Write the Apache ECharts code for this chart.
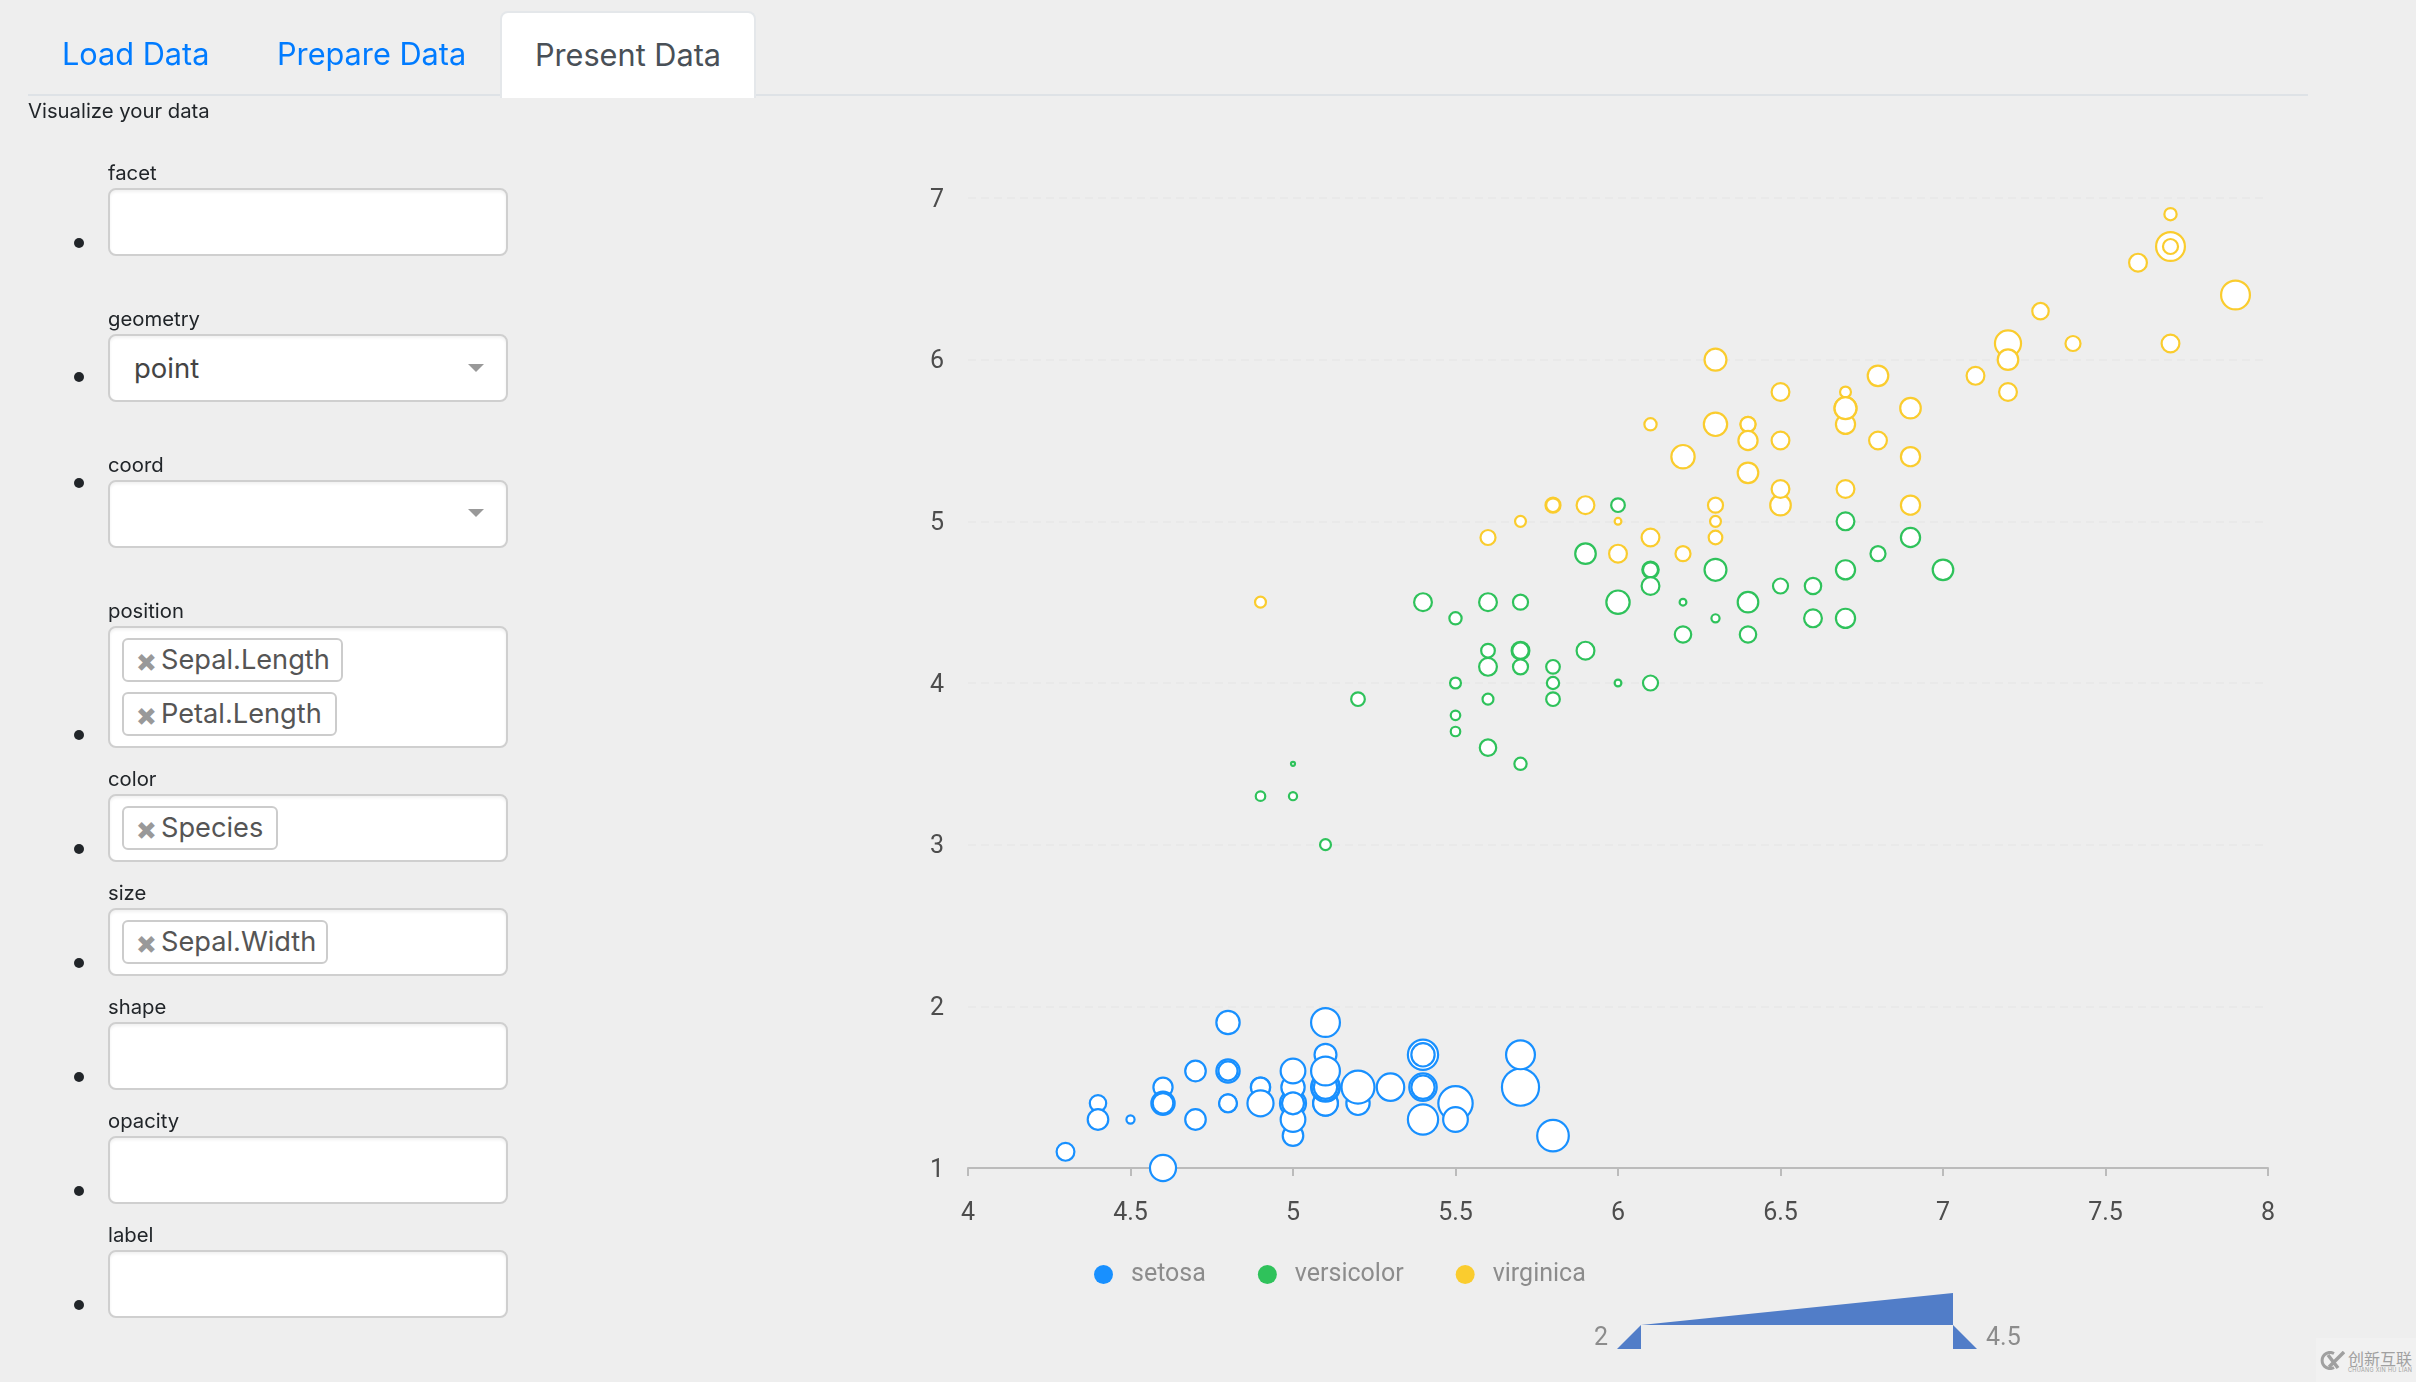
<!DOCTYPE html>
<html>
<head>
<meta charset="utf-8">
<title>Present Data</title>
<script src="https://cdn.jsdelivr.net/npm/echarts@6/dist/echarts.min.js"></script>
<style>
html, body { margin: 0; padding: 0; width: 2416px; height: 1382px; background: #eeeeee; overflow: hidden; font-family: Inter, sans-serif; }
#chart { position: absolute; left: 0; top: 0; width: 2416px; height: 1382px; }
.abs { position: absolute; white-space: nowrap; }
.tab { font-size: 30.7px; line-height: 36px; color: #007bff; }
.tabline { left: 28px; top: 94px; width: 2280px; height: 2px; background: #dee2e6; }
.active { left: 500px; top: 11px; width: 252px; height: 85px; background: #fff; border: 2px solid #e4e7ea; border-bottom: 0; border-radius: 8px 8px 0 0; box-sizing: content-box; color: #495057; font-size: 30.7px; line-height: 84px; text-align: center; }
.sub { left: 28px; top: 98px; font-size: 20.3px; line-height: 26px; color: #212529; }
.lab { left: 108px; font-size: 20.3px; line-height: 26px; color: #212529; }
.box { left: 108px; width: 400px; background: #fff; border: 2.5px solid #cfcfcf; border-radius: 8px; box-sizing: border-box; box-shadow: inset 0 2px 3px rgba(0,0,0,.06); }
.dot { left: 74px; width: 10px; height: 10px; border-radius: 50%; background: #212529; }
.val { left: 134px; font-size: 27.5px; line-height: 34px; color: #444; }
.caret { left: 468px; width: 0; height: 0; border-left: 8px solid transparent; border-right: 8px solid transparent; border-top: 8px solid #999; }
.tag { left: 122px; height: 44px; background: #fff; border: 2px solid #ccc; border-radius: 6px; box-sizing: border-box; color: #555; font-size: 27.2px; line-height: 40px; padding-left: 37px; }
.tag b { position: absolute; left: 12px; top: 0; font-size: 30px; color: #999; font-weight: 900; }
.mark { left: 2316px; top: 1338px; width: 100px; height: 44px; background: #f1f1f1; color: #a0a0a0; }
</style>
</head>
<body>
<div id="chart"></div>

<div class="abs tabline"></div>
<div class="abs tab" style="left:62px;top:36px">Load Data</div>
<div class="abs tab" style="left:277px;top:36px">Prepare Data</div>
<div class="abs active">Present Data</div>
<div class="abs sub">Visualize your data</div>

<div class="abs lab" style="top:160px">facet</div>
<div class="abs box" style="top:188px;height:68px"></div>
<div class="abs dot" style="top:238px"></div>

<div class="abs lab" style="top:306px">geometry</div>
<div class="abs box" style="top:334px;height:68px"></div>
<div class="abs dot" style="top:372px"></div>
<div class="abs val" style="top:351px">point</div>
<div class="abs caret" style="top:364px"></div>

<div class="abs lab" style="top:452px">coord</div>
<div class="abs box" style="top:480px;height:68px"></div>
<div class="abs dot" style="top:478px"></div>
<div class="abs caret" style="top:509px"></div>

<div class="abs lab" style="top:598px">position</div>
<div class="abs box" style="top:626px;height:122px"></div>
<div class="abs dot" style="top:730px"></div>
<div class="abs tag" style="top:638px;width:221px"><b>×</b>Sepal.Length</div>
<div class="abs tag" style="top:692px;width:215px"><b>×</b>Petal.Length</div>

<div class="abs lab" style="top:766px">color</div>
<div class="abs box" style="top:794px;height:68px"></div>
<div class="abs dot" style="top:844px"></div>
<div class="abs tag" style="top:806px;width:156px"><b>×</b>Species</div>

<div class="abs lab" style="top:880px">size</div>
<div class="abs box" style="top:908px;height:68px"></div>
<div class="abs dot" style="top:958px"></div>
<div class="abs tag" style="top:920px;width:206px"><b>×</b>Sepal.Width</div>

<div class="abs lab" style="top:994px">shape</div>
<div class="abs box" style="top:1022px;height:68px"></div>
<div class="abs dot" style="top:1072px"></div>

<div class="abs lab" style="top:1108px">opacity</div>
<div class="abs box" style="top:1136px;height:68px"></div>
<div class="abs dot" style="top:1186px"></div>

<div class="abs lab" style="top:1222px">label</div>
<div class="abs box" style="top:1250px;height:68px"></div>
<div class="abs dot" style="top:1300px"></div>

<div class="abs mark">
  <div class="abs" style="left:32px;top:11px;font-size:16px;line-height:18px;font-family:'Noto Sans CJK SC'">创新互联</div>
  <div class="abs" style="left:32px;top:28px;font-size:5.5px;line-height:8px;letter-spacing:.3px">CHUANG XIN HU LIAN</div>
  <svg class="abs" style="left:3px;top:13px" width="26" height="19" viewBox="0 0 26 19"><path d="M15 2.5 A8 8 0 1 0 15 16.5" fill="none" stroke="#a0a0a0" stroke-width="3"/><path d="M9 4 L19 17 M25 1 L10 16" stroke="#a0a0a0" stroke-width="3.5"/></svg>
</div>

<script>
// [Sepal.Length, Petal.Length, Sepal.Width]
var setosa = [
  [5.1,1.4,3.5],[4.9,1.4,3.0],[4.7,1.3,3.2],[4.6,1.5,3.1],[5.0,1.4,3.6],[5.4,1.7,3.9],[4.6,1.4,3.4],[5.0,1.5,3.4],[4.4,1.4,2.9],[4.9,1.5,3.1],
  [5.4,1.5,3.7],[4.8,1.6,3.4],[4.8,1.4,3.0],[4.3,1.1,3.0],[5.8,1.2,4.0],[5.7,1.5,4.4],[5.4,1.3,3.9],[5.1,1.4,3.5],[5.7,1.7,3.8],[5.1,1.5,3.8],
  [5.4,1.7,3.4],[5.1,1.5,3.7],[4.6,1.0,3.6],[5.1,1.7,3.3],[4.8,1.9,3.4],[5.0,1.6,3.0],[5.0,1.6,3.4],[5.2,1.5,3.5],[5.2,1.4,3.4],[4.7,1.6,3.2],
  [4.8,1.6,3.1],[5.4,1.5,3.4],[5.2,1.5,4.1],[5.5,1.4,4.2],[4.9,1.5,3.1],[5.0,1.2,3.2],[5.5,1.3,3.5],[4.9,1.4,3.6],[4.4,1.3,3.0],[5.1,1.5,3.4],
  [5.0,1.3,3.5],[4.5,1.3,2.3],[4.4,1.3,3.2],[5.0,1.6,3.5],[5.1,1.9,3.8],[4.8,1.4,3.0],[5.1,1.6,3.8],[4.6,1.4,3.2],[5.3,1.5,3.7],[5.0,1.4,3.3]
];
var versicolor = [
  [7.0,4.7,3.2],[6.4,4.5,3.2],[6.9,4.9,3.1],[5.5,4.0,2.3],[6.5,4.6,2.8],[5.7,4.5,2.8],[6.3,4.7,3.3],[4.9,3.3,2.4],[6.6,4.6,2.9],[5.2,3.9,2.7],
  [5.0,3.5,2.0],[5.9,4.2,3.0],[6.0,4.0,2.2],[6.1,4.7,2.9],[5.6,3.6,2.9],[6.7,4.4,3.1],[5.6,4.5,3.0],[5.8,4.1,2.7],[6.2,4.5,2.2],[5.6,3.9,2.5],
  [5.9,4.8,3.2],[6.1,4.0,2.8],[6.3,4.9,2.5],[6.1,4.7,2.8],[6.4,4.3,2.9],[6.6,4.4,3.0],[6.8,4.8,2.8],[6.7,5.0,3.0],[6.0,4.5,2.9],[5.7,3.5,2.6],
  [5.5,3.8,2.4],[5.5,3.7,2.4],[5.8,3.9,2.7],[6.0,5.1,2.7],[5.4,4.5,3.0],[6.0,4.5,3.4],[6.7,4.7,3.1],[6.3,4.4,2.3],[5.6,4.1,3.0],[5.5,4.0,2.5],
  [5.5,4.4,2.6],[6.1,4.6,3.0],[5.8,4.0,2.6],[5.0,3.3,2.3],[5.6,4.2,2.7],[5.7,4.2,3.0],[5.7,4.2,2.9],[6.2,4.3,2.9],[5.1,3.0,2.5],[5.7,4.1,2.8]
];
var virginica = [
  [6.3,6.0,3.3],[5.8,5.1,2.7],[7.1,5.9,3.0],[6.3,5.6,2.9],[6.5,5.8,3.0],[7.6,6.6,3.0],[4.9,4.5,2.5],[7.3,6.3,2.9],[6.7,5.8,2.5],[7.2,6.1,3.6],
  [6.5,5.1,3.2],[6.4,5.3,2.7],[6.8,5.5,3.0],[5.7,5.0,2.5],[5.8,5.1,2.8],[6.4,5.3,3.2],[6.5,5.5,3.0],[7.7,6.7,3.8],[7.7,6.9,2.6],[6.0,5.0,2.2],
  [6.9,5.7,3.2],[5.6,4.9,2.8],[7.7,6.7,2.8],[6.3,4.9,2.7],[6.7,5.7,3.3],[7.2,6.0,3.2],[6.2,4.8,2.8],[6.1,4.9,3.0],[6.4,5.6,2.8],[7.2,5.8,3.0],
  [7.4,6.1,2.8],[7.9,6.4,3.8],[6.4,5.6,2.8],[6.3,5.1,2.8],[6.1,5.6,2.6],[7.7,6.1,3.0],[6.3,5.6,3.4],[6.4,5.5,3.1],[6.0,4.8,3.0],[6.9,5.4,3.1],
  [6.7,5.6,3.1],[6.9,5.1,3.1],[5.8,5.1,2.7],[6.8,5.9,3.2],[6.7,5.7,3.3],[6.7,5.2,3.0],[6.3,5.0,2.5],[6.5,5.2,3.0],[6.2,5.4,3.4],[5.9,5.1,3.0]
];
var speciesNames = ['setosa', 'versicolor', 'virginica'];
var speciesColors = ['#1890ff', '#2fc25b', '#facc2e'];
var speciesData = [setosa, versicolor, virginica];
var sizeRange = [2, 4.5];

var myChart = echarts.init(document.getElementById('chart'));
myChart.setOption({
  animation: false,
  backgroundColor: 'transparent',
  textStyle: { fontFamily: 'Roboto' },
  grid: { left: 968, right: 148, top: 198, bottom: 214 },
  xAxis: {
    type: 'value', min: 4, max: 8, interval: 0.5,
    axisLine: { lineStyle: { color: '#bbbbbb', width: 2 } },
    axisTick: { show: true, length: 8, lineStyle: { color: '#bbbbbb', width: 2 } },
    axisLabel: { color: '#4d4d4d', fontSize: 25, margin: 33 },
    splitLine: { show: false }
  },
  yAxis: {
    type: 'value', min: 1, max: 7, interval: 1,
    axisLine: { show: false },
    axisTick: { show: false },
    axisLabel: { color: '#4d4d4d', fontSize: 25, margin: 24, verticalAlign: 'top', lineHeight: 5 },
    splitLine: { lineStyle: { color: '#e9e9e9', type: [8, 5], width: 2 } }
  },
  legend: {
    left: 1094, top: 1262, padding: 0, itemGap: 52, itemWidth: 19, itemHeight: 19, icon: 'circle',
    textStyle: { color: '#8c8c8c', fontSize: 25, padding: [0, 0, 0, 13] },
    data: speciesNames.map(function (name, i) {
      return { name: name, icon: 'circle', itemStyle: { color: speciesColors[i], borderWidth: 0 } };
    })
  },
  // sizes the marks by Sepal.Width, its drawn control is the wedge in graphic below
  visualMap: {
    show: false, type: 'continuous', min: sizeRange[0], max: sizeRange[1], dimension: 2, seriesIndex: [0, 1, 2],
    inRange: { symbolSize: [4, 38.5] }
  },
  graphic: [
    { type: 'polygon', shape: { points: [[1641, 1325], [1953, 1293], [1953, 1325]] }, style: { fill: '#517dc8' } },
    { type: 'polygon', shape: { points: [[1617, 1349], [1641, 1349], [1641, 1325]] }, style: { fill: '#517dc8' } },
    { type: 'polygon', shape: { points: [[1953, 1349], [1977, 1349], [1953, 1325]] }, style: { fill: '#517dc8' } },
    { type: 'text', x: 1608, y: 1339, style: { text: String(sizeRange[0]), fill: '#8c8c8c', font: '25px Roboto', align: 'right', verticalAlign: 'middle' } },
    { type: 'text', x: 1986, y: 1339, style: { text: String(sizeRange[1]), fill: '#8c8c8c', font: '25px Roboto', align: 'left', verticalAlign: 'middle' } }
  ],
  series: speciesData.map(function (rows, i) {
    return {
      name: speciesNames[i], type: 'scatter', data: rows,
      encode: { x: 0, y: 1 },
      itemStyle: { color: '#ffffff', borderColor: speciesColors[i], borderWidth: 2.2, opacity: 1 }
    };
  })
});
</script>
</body>
</html>
